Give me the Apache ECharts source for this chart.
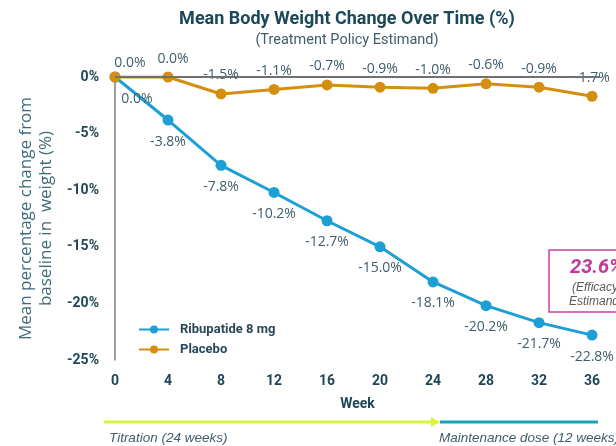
<!DOCTYPE html>
<html>
<head>
<meta charset="utf-8">
<script src="https://cdn.jsdelivr.net/npm/echarts@6/dist/echarts.min.js"></script>
<style>
  html, body { margin: 0; padding: 0; background: #ffffff; }
  #chart { width: 616px; height: 446px; }
</style>
</head>
<body>
<div id="chart"></div>
<script>
// Study weeks and mean % change from baseline in body weight
const weeks = [0, 4, 8, 12, 16, 20, 24, 28, 32, 36];
const ribupatide = [0.0, -3.8, -7.8, -10.2, -12.7, -15.0, -18.1, -20.2, -21.7, -22.8];
const placebo = [0.0, 0.0, -1.5, -1.1, -0.7, -0.9, -1.0, -0.6, -0.9, -1.7];
const seriesNames = ['Ribupatide 8 mg', 'Placebo'];
const efficacyEstimand = '23.6%';

const BLUE = '#1c9fd4';
const ORANGE = '#d48f10';
const LABEL_COLOR = '#3f5d6b';
const AXIS_TEXT = '#1f4757';

const fmtPct = v => v.toFixed(1) + '%';

// per-point label nudges so the start-point labels don't collide
const ribLabelOffset = { 0: [22, 1] };
const plaLabelOffset = { 0: [15, 5], 1: [5, 1] };

const toPoints = (vals, offsets) => weeks.map((w, i) => {
  const item = { value: [w, vals[i]] };
  if (offsets[i]) item.label = { offset: offsets[i] };
  return item;
});

const chart = echarts.init(document.getElementById('chart'), null, { renderer: 'canvas' });

const valueLabel = {
  show: true,
  formatter: p => fmtPct(p.value[1]),
  fontFamily: 'Open Sans',
  fontSize: 14,
  color: LABEL_COLOR
};

chart.setOption({
  backgroundColor: '#ffffff',
  animation: false,
  title: {
    text: 'Mean Body Weight Change Over Time (%)',
    subtext: '(Treatment Policy Estimand)',
    left: 342,
    top: 5,
    textAlign: 'center',
    itemGap: 5,
    textStyle: { fontFamily: 'Roboto', fontWeight: 'bold', fontSize: 18, color: '#1b4858' },
    subtextStyle: { fontFamily: 'Roboto', fontSize: 14.5, color: '#3f5d6b' }
  },
  grid: { left: 115, right: 16, top: 77, bottom: 86, containLabel: false },
  legend: {
    orient: 'vertical',
    left: 133,
    top: 318,
    itemGap: 7,
    itemWidth: 30,
    itemHeight: 10,
    data: seriesNames,
    textStyle: { fontFamily: 'Roboto', fontWeight: 'bold', fontSize: 13, color: '#2a4757', padding: [0, 0, 0, 6] }
  },
  xAxis: {
    type: 'value',
    min: 0,
    max: 36.6,
    interval: 4,
    name: 'Week',
    nameLocation: 'middle',
    nameGap: 37,
    nameTextStyle: { fontFamily: 'Roboto', fontWeight: 'bold', fontSize: 14, color: AXIS_TEXT },
    axisLine: { show: false },
    axisTick: { show: false },
    splitLine: { show: false },
    axisLabel: {
      margin: 14,
      fontFamily: 'Roboto', fontWeight: 'bold', fontSize: 14, color: AXIS_TEXT,
      formatter: v => (v % 4 === 0 && v <= 36) ? String(v) : ''
    }
  },
  yAxis: {
    type: 'value',
    min: -25,
    max: 0,
    interval: 5,
    name: 'Mean percentage change from\nbaseline in  weight (%)',
    nameLocation: 'middle',
    nameGap: 58,
    nameRotate: 90,
    nameTextStyle: { fontFamily: 'Open Sans', fontSize: 17, lineHeight: 20, color: '#3c6a78' },
    axisLine: { show: true, lineStyle: { color: '#808080', width: 1.5 } },
    axisTick: { show: false },
    splitLine: { show: false },
    axisLabel: {
      margin: 16,
      fontFamily: 'Roboto', fontWeight: 'bold', fontSize: 14, color: AXIS_TEXT,
      formatter: v => v + '%'
    }
  },
  series: [
    {
      // zero reference line
      type: 'line',
      data: [],
      silent: true,
      z: 1,
      markLine: {
        silent: true,
        symbol: 'none',
        label: { show: false },
        lineStyle: { color: '#707070', width: 1.8, type: 'solid' },
        data: [{ yAxis: 0 }]
      }
    },
    {
      name: seriesNames[0],
      type: 'line',
      z: 3,
      data: toPoints(ribupatide, ribLabelOffset),
      color: BLUE,
      symbol: 'circle',
      symbolSize: 11,
      lineStyle: { width: 3, color: BLUE },
      itemStyle: { color: BLUE },
      label: Object.assign({}, valueLabel, { position: 'bottom', distance: 9 })
    },
    {
      name: seriesNames[1],
      type: 'line',
      z: 4,
      data: toPoints(placebo, plaLabelOffset),
      color: ORANGE,
      symbol: 'circle',
      symbolSize: 11,
      lineStyle: { width: 3, color: ORANGE },
      itemStyle: { color: ORANGE },
      label: Object.assign({}, valueLabel, { position: 'top', distance: 6 })
    }
  ],
  graphic: [
    // efficacy estimand call-out
    {
      type: 'rect',
      shape: { x: 549, y: 250, width: 90, height: 62 },
      style: { fill: 'none', stroke: '#c9429f', lineWidth: 1.5 }
    },
    {
      type: 'text', x: 570, y: 268,
      style: { text: efficacyEstimand, fill: '#c2389b', font: 'italic bold 20px Roboto', textVerticalAlign: 'middle' }
    },
    {
      type: 'text', x: 572, y: 288,
      style: { text: '(Efficacy', fill: '#5a5a5a', font: 'italic 12px "Liberation Sans"', textVerticalAlign: 'middle' }
    },
    {
      type: 'text', x: 569, y: 302,
      style: { text: 'Estimand', fill: '#5a5a5a', font: 'italic 12px "Liberation Sans"', textVerticalAlign: 'middle' }
    },
    // dosing phase bars
    {
      type: 'line',
      shape: { x1: 104, y1: 422, x2: 432, y2: 422 },
      style: { stroke: '#d7f53c', lineWidth: 3 }
    },
    {
      type: 'polygon',
      shape: { points: [[431, 417], [440, 422], [431, 427]] },
      style: { fill: '#d7f53c' }
    },
    {
      type: 'line',
      shape: { x1: 440, y1: 422, x2: 598, y2: 422 },
      style: { stroke: '#1aa3b6', lineWidth: 3 }
    },
    {
      type: 'text', x: 109, y: 438,
      style: { text: 'Titration (24 weeks)', fill: '#3f5d6b', font: 'italic 13.5px "Liberation Sans"', textVerticalAlign: 'middle' }
    },
    {
      type: 'text', x: 439, y: 438,
      style: { text: 'Maintenance dose (12 weeks)', fill: '#3f5d6b', font: 'italic 13.5px "Liberation Sans"', textVerticalAlign: 'middle' }
    }
  ]
});
</script>
</body>
</html>
